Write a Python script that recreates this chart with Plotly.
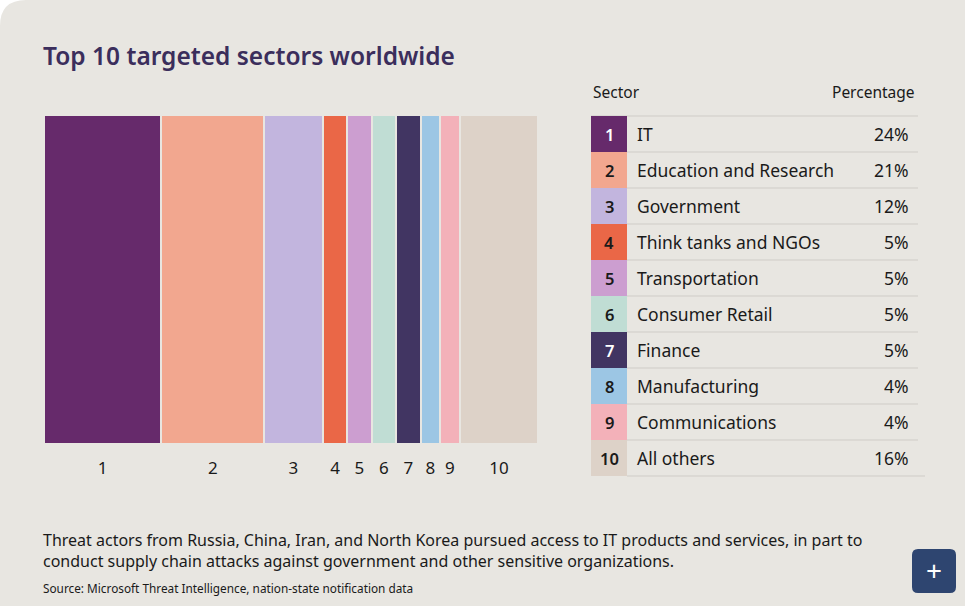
import plotly.graph_objects as go

W, H = 965, 606

# ---- data ----
ranks = ["1", "2", "3", "4", "5", "6", "7", "8", "9", "10"]
sectors = ["IT", "Education and Research", "Government", "Think tanks and NGOs",
           "Transportation", "Consumer Retail", "Finance", "Manufacturing",
           "Communications", "All others"]
percentages = [24, 21, 12, 5, 5, 5, 5, 4, 4, 16]
colors = ["#662A6B", "#F2A78F", "#C2B5DE", "#EA6747", "#CC9ED0",
          "#C0DDD4", "#413562", "#9CC6E4", "#F3B1B9", "#DDD2C8"]
num_colors = ["#FFFFFF", "#1A1A1A", "#1A1A1A", "#1A1A1A", "#1A1A1A",
              "#1A1A1A", "#FFFFFF", "#1A1A1A", "#1A1A1A", "#1A1A1A"]

BG = "#E8E6E1"
FONT = "Noto Sans"

# plot area in pixels
L, R, T, B = 44, 538, 116, 443

# mekko positions from cumulative shares
starts = []
acc = 0
for p in percentages:
    starts.append(acc)
    acc += p
centers = [s + p / 2 for s, p in zip(starts, percentages)]
total = acc

fig = go.Figure()
fig.add_trace(go.Bar(
    x=centers, y=[1] * len(percentages), width=[p - 0.4 for p in percentages],
    marker=dict(color=colors, line=dict(width=0)),
    hoverinfo="text", hovertext=[f"{s}: {p}%" for s, p in zip(sectors, percentages)],
    showlegend=False,
))

def px(x):
    return (x - L) / (R - L)

def py(y):
    return (B - y) / (B - T)

shapes = []
annotations = []

# white corner outside rounded card (top-left)
r = 26
shapes.append(dict(
    type="path", xref="paper", yref="paper", layer="above",
    path=f"M {px(0)},{py(0)} L {px(r)},{py(0)} Q {px(0)},{py(0)} {px(0)},{py(r)} Z",
    fillcolor="#FFFFFF", line=dict(width=0),
))

# title
annotations.append(dict(
    text="Top 10 targeted sectors worldwide", xref="paper", yref="paper",
    x=px(41), y=py(55), xanchor="left", yanchor="middle", showarrow=False,
    font=dict(family=FONT, size=24.5, color="#3B2E5C", weight=600),
))

# table
tx0, tsw, tx1 = 591, 36, 918
row_top, row_h = 116, 36
annotations.append(dict(text="Sector", xref="paper", yref="paper", x=px(591), y=py(92),
                        xanchor="left", yanchor="middle", showarrow=False,
                        font=dict(family=FONT, size=15.5, color="#1A1A1A")))
annotations.append(dict(text="Percentage", xref="paper", yref="paper", x=px(917), y=py(92),
                        xanchor="right", yanchor="middle", showarrow=False,
                        font=dict(family=FONT, size=15.5, color="#1A1A1A")))
shapes.append(dict(type="line", xref="paper", yref="paper",
                   x0=px(tx0), x1=px(tx1), y0=py(row_top), y1=py(row_top),
                   line=dict(color="#CFCCC7", width=1)))
for i, (rk, sec, p, c, nc) in enumerate(zip(ranks, sectors, percentages, colors, num_colors)):
    y0 = row_top + i * row_h
    y1 = y0 + row_h
    yc = (y0 + y1) / 2
    shapes.append(dict(type="rect", xref="paper", yref="paper",
                       x0=px(tx0), x1=px(tx0 + tsw), y0=py(y0), y1=py(y1),
                       fillcolor=c, line=dict(width=0)))
    shapes.append(dict(type="line", xref="paper", yref="paper",
                       x0=px(tx0 + tsw), x1=px(tx1 + (7 if i == len(ranks) - 1 else 0)),
                       y0=py(y1), y1=py(y1),
                       line=dict(color="#CFCCC7", width=1)))
    annotations.append(dict(text=rk, xref="paper", yref="paper",
                            x=px(tx0 + tsw / 2), y=py(yc), xanchor="center", yanchor="middle",
                            showarrow=False, font=dict(family=FONT, size=16.5, color=nc, weight=600)))
    annotations.append(dict(text=sec, xref="paper", yref="paper",
                            x=px(635), y=py(yc), xanchor="left", yanchor="middle",
                            showarrow=False, font=dict(family=FONT, size=17.5, color="#1A1A1A")))
    annotations.append(dict(text=f"{p}%", xref="paper", yref="paper",
                            x=px(911), y=py(yc), xanchor="right", yanchor="middle",
                            showarrow=False, font=dict(family=FONT, size=17.5, color="#1A1A1A")))

# footnote
annotations.append(dict(
    text="Threat actors from Russia, China, Iran, and North Korea pursued access to IT products and services, in part to<br>conduct supply chain attacks against government and other sensitive organizations.",
    xref="paper", yref="paper", x=px(41), y=py(550), xanchor="left", yanchor="middle",
    align="left", showarrow=False, font=dict(family=FONT, size=16, color="#1A1A1A"),
))
annotations.append(dict(
    text="Source: Microsoft Threat Intelligence, nation-state notification data",
    xref="paper", yref="paper", x=px(41), y=py(588), xanchor="left", yanchor="middle",
    showarrow=False, font=dict(family=FONT, size=11.8, color="#1A1A1A"),
))

# plus button
shapes.append(dict(
    type="path", xref="paper", yref="paper",
    path=(f"M {px(918)},{py(549)} L {px(950)},{py(549)} Q {px(956)},{py(549)} {px(956)},{py(555)} "
          f"L {px(956)},{py(587)} Q {px(956)},{py(593)} {px(950)},{py(593)} L {px(918)},{py(593)} "
          f"Q {px(912)},{py(593)} {px(912)},{py(587)} L {px(912)},{py(555)} Q {px(912)},{py(549)} {px(918)},{py(549)} Z"),
    fillcolor="#2E4570", line=dict(width=0),
))
annotations.append(dict(text="+", xref="paper", yref="paper", x=px(934), y=py(570),
                        xanchor="center", yanchor="middle", showarrow=False,
                        font=dict(family=FONT, size=28, color="#FFFFFF")))

fig.update_layout(
    width=W, height=H,
    margin=dict(l=L, r=W - R, t=T, b=H - B),
    paper_bgcolor=BG, plot_bgcolor=BG,
    bargap=0,
    xaxis=dict(range=[0, total], tickvals=centers, ticktext=ranks,
               showgrid=False, zeroline=False, showline=False,
               ticks="outside", ticklen=10, tickcolor=BG,
               tickfont=dict(family=FONT, size=17, color="#1A1A1A"), fixedrange=True),
    yaxis=dict(range=[0, 1], visible=False, fixedrange=True),
    shapes=shapes, annotations=annotations,
)

fig.write_html("out.html")
